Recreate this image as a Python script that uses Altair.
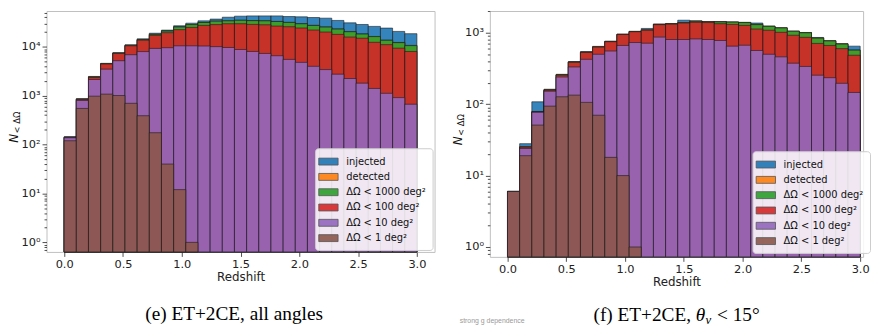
import altair as alt
import numpy as np
import pandas as pd

# ---------------- data ----------------
edges = np.linspace(0.0, 3.0, 30)  # 29 redshift bins
series = ["injected", "detected", "ΔΩ < 1000 deg²", "ΔΩ < 100 deg²", "ΔΩ < 10 deg²", "ΔΩ < 1 deg²"]
colors = ["#1f77b4", "#ff7f0e", "#2ca02c", "#d62728", "#9467bd", "#8c564b"]

# (e) ET+2CE, all angles
e_injected = [145, 870, 2480, 4600, 7600, 11000, 14600, 19000, 22000, 27000, 30500, 34000, 37000, 40400,
              42400, 43000, 43000, 43000, 41700, 41100, 39800, 38600, 34700, 31000, 28700, 26200, 24200, 20700, 18600]
e_detected = [143, 860, 2450, 4550, 7500, 10800, 14100, 18100, 21100, 25600, 28600, 31600, 33600, 34200,
              35000, 34500, 34200, 33100, 31700, 29800, 27500, 25500, 23200, 20500, 18400, 16300, 13700, 12300, 10700]
e_1000 = [142, 850, 2400, 4500, 7450, 10700, 14000, 18000, 21000, 25500, 28500, 31500, 33500, 34100,
          34900, 34400, 34100, 33000, 31600, 29700, 27400, 25400, 23100, 20400, 18300, 16200, 13600, 12200, 10600]
e_100 = [140, 840, 2350, 4450, 7300, 10500, 13700, 17200, 19500, 22500, 25000, 27500, 28500, 29700,
         29700, 28800, 28300, 26600, 25800, 24300, 22100, 20100, 18000, 15900, 15000, 12400, 11100, 9400, 8050]
e_10 = [138, 800, 2150, 3500, 5200, 6900, 8000, 9300, 9600, 10500, 10500, 10400, 10100, 9700,
        8830, 8050, 7330, 6580, 5540, 4820, 4000, 3430, 2760, 2250, 1810, 1410, 1120, 915, 670]
e_1 = [120, 550, 980, 1080, 1010, 700, 390, 175, 40, 12, 1, 0, 0, 0,
       0, 0, 0, 0, 0, 0, 0, 0, 0, 0, 0, 0, 0, 0, 0]

# (f) ET+2CE, theta_v < 15 deg
f_injected = [6, 28, 108, 162, 262, 395, 545, 645, 765, 960, 1050, 1150, 1330, 1350,
              1500, 1470, 1440, 1440, 1420, 1400, 1370, 1240, 1175, 1055, 1010, 860, 775, 705, 650]
f_detected = [6, 25.5, 79, 160, 258, 390, 535, 635, 755, 950, 1040, 1100, 1310, 1345,
              1390, 1460, 1430, 1425, 1415, 1395, 1310, 1235, 1172, 1052, 1005, 845, 772, 700, 575]
f_1000 = [6, 25, 78, 158, 258, 390, 535, 635, 755, 950, 1040, 1090, 1310, 1330,
          1380, 1440, 1420, 1420, 1410, 1390, 1300, 1230, 1170, 1050, 1000, 840, 770, 695, 570]
f_100 = [6, 25, 78, 157, 255, 385, 530, 630, 750, 945, 1035, 1085, 1300, 1320,
         1370, 1400, 1390, 1340, 1310, 1270, 1130, 1085, 1015, 925, 865, 710, 665, 600, 485]
f_10 = [6, 24, 77, 152, 240, 332, 425, 500, 555, 665, 730, 715, 870, 805,
        805, 820, 805, 780, 650, 670, 565, 500, 460, 375, 338, 255, 235, 196, 146]
f_1 = [6, 19, 51, 94, 127, 134, 106, 70, 18, 10, 1, 0, 0, 0,
       0, 0, 0, 0, 0, 0, 0, 0, 0, 0, 0, 0, 0, 0, 0]

x_ticks = [0.0, 0.5, 1.0, 1.5, 2.0, 2.5, 3.0]


def make_df(cols):
    rows = []
    for name, vals in zip(series, cols):
        for i, v in enumerate(vals):
            if v > 0:
                rows.append({"series": name, "z0": float(edges[i]), "z1": float(edges[i + 1]), "n": float(v)})
    return pd.DataFrame(rows)


def y_tick_values(lo, hi):
    vals = []
    for k in range(-1, 6):
        for m in range(1, 10):
            v = m * 10.0 ** k if k < 0 else float(m * 10 ** k)
            if lo <= v <= hi:
                vals.append(v)
    return vals


LABEL_EXPR = ("datum.value == 1 ? '10⁰' : datum.value == 10 ? '10¹' : datum.value == 100 ? '10²' : "
              "datum.value == 1000 ? '10³' : datum.value == 10000 ? '10⁴' : ''")
MAJOR_TEST = "abs(log(datum.value)/LN10 - round(log(datum.value)/LN10)) < 1e-6"
RECT = "M-1.4,-0.5L1.4,-0.5L1.4,0.5L-1.4,0.5Z"
one = pd.DataFrame({"a": [0]})


def txt(text, x, y, **kw):
    return alt.Chart(one).mark_text(text=text, **kw).encode(x=alt.value(x), y=alt.value(y))


def panel(cols, ymin, ymax, xmax, w, h, legend_x, legend_y, extra):
    df = make_df(cols)
    bars = alt.Chart(df).mark_bar(
        fillOpacity=0.9, stroke="#1a1a1a", strokeOpacity=0.75, strokeWidth=0.8
    ).encode(
        x=alt.X("z0:Q", scale=alt.Scale(domain=[-0.15, xmax], nice=False, zero=False),
                axis=alt.Axis(values=x_ticks, format=".1f", title="Redshift", grid=False,
                              tickSize=4.5, labelPadding=2, titlePadding=2)),
        x2="z1:Q",
        y=alt.Y("n:Q", stack=None,
                scale=alt.Scale(type="log", domain=[ymin, ymax], nice=False),
                axis=alt.Axis(values=y_tick_values(ymin, ymax), labelExpr=LABEL_EXPR, title=None,
                              grid=False, labelOverlap=False, labelPadding=2,
                              labelFontSize={"condition": {"test": MAJOR_TEST, "value": 11.5}, "value": 0},
                              tickSize={"condition": {"test": MAJOR_TEST, "value": 4.5}, "value": 2.5})),
        y2=alt.datum(ymin),
        color=alt.Color("series:N", scale=alt.Scale(domain=series, range=colors),
                        legend=alt.Legend(orient="none", legendX=legend_x, legendY=legend_y, title=None,
                                          symbolType=RECT, symbolSize=196, symbolOpacity=0.9,
                                          symbolStrokeColor="#444", symbolStrokeWidth=0.8,
                                          labelFont="DejaVu Sans", labelFontSize=10, labelColor="#111",
                                          labelOffset=10.5, rowPadding=2.5, padding=6,
                                          fillColor="rgba(255,255,255,0.85)", strokeColor="#cccccc",
                                          cornerRadius=3)),
    ).properties(width=w, height=h)
    ytitle_n = txt("N", -32.5, h / 2 + 7, font="DejaVu Sans", fontSize=12, fontStyle="italic",
                   angle=270, align="center", baseline="middle", color="#111")
    ytitle_s = txt("< ΔΩ", -29.5, h / 2 - 9, font="DejaVu Sans", fontSize=8.5,
                   angle=270, align="center", baseline="middle", color="#111")
    return alt.layer(bars, ytitle_n, ytitle_s, *extra)


left_extra = [
    txt("(e) ET+2CE, all angles", 190, 313, font="Liberation Serif", fontSize=19.5,
        align="center", baseline="alphabetic", color="#000"),
]
right_extra = [
    txt("(f) ET+2CE,", 105, 314, font="Liberation Serif", fontSize=19.5,
        align="left", baseline="alphabetic", color="#000"),
    txt("θ", 208.5, 314, font="Liberation Serif", fontSize=19.5, fontStyle="italic",
        align="left", baseline="alphabetic", color="#000"),
    txt("ν", 218.5, 317, font="Liberation Serif", fontSize=13, fontStyle="italic",
        align="left", baseline="alphabetic", color="#000"),
    txt("< 15°", 230, 314, font="Liberation Serif", fontSize=19.5,
        align="left", baseline="alphabetic", color="#000"),
    txt("strong g dependence", 2.3, 316, font="Liberation Sans", fontSize=7,
        align="center", baseline="alphabetic", color="#999"),
]

left = panel([e_injected, e_detected, e_1000, e_100, e_10, e_1], 0.637, 54100, 3.15, 393, 244, 272, 139,
             left_extra)
right = panel([f_injected, f_detected, f_1000, f_100, f_10, f_1], 0.727, 2018, 3.025, 378, 249, 266, 142,
              right_extra)

chart = alt.hconcat(left, right, spacing=16).resolve_scale(
    color="independent", x="independent", y="independent"
).configure(
    padding={"left": 0, "top": 0, "right": 0, "bottom": 0},
    background="white",
).configure_view(
    stroke="#bfbfbf", strokeWidth=1
).configure_axis(
    domain=False, tickColor="#222", tickWidth=0.8,
    labelFont="DejaVu Sans", labelFontSize=11.5, labelColor="#222",
    titleFont="DejaVu Sans", titleFontSize=12, titleFontWeight="normal", titleColor="#222",
)

chart.save("out.html", embed_options={"renderer": "svg", "actions": False})
